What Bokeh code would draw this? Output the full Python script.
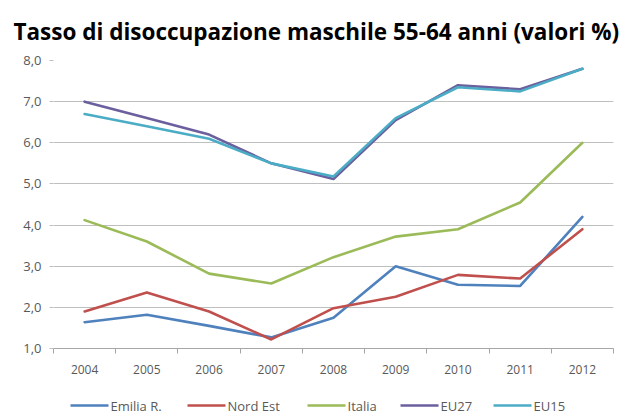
from bokeh.plotting import figure
from bokeh.models import FixedTicker, Range1d
from bokeh.layouts import column
from bokeh.core.properties import value
from bokeh.embed import file_html
from bokeh.resources import INLINE

years = [2004, 2005, 2006, 2007, 2008, 2009, 2010, 2011, 2012]
emilia = [1.64, 1.82, 1.55, 1.27, 1.75, 3.0, 2.55, 2.52, 4.2]
nord_est = [1.9, 2.36, 1.9, 1.22, 1.98, 2.26, 2.79, 2.7, 3.9]
italia = [4.12, 3.6, 2.82, 2.58, 3.22, 3.72, 3.9, 4.55, 6.0]
eu27 = [7.0, 6.6, 6.2, 5.5, 5.12, 6.55, 7.4, 7.3, 7.8]
eu15 = [6.7, 6.4, 6.1, 5.5, 5.18, 6.6, 7.35, 7.25, 7.8]
y_ticks = [1, 2, 3, 4, 5, 6, 7, 8]
series_names = ["Emilia R.", "Nord Est", "Italia", "EU27", "EU15"]
colors = ["#4F81BD", "#C0504D", "#9BBB59", "#6C5F9E", "#4BACC6"]

p = figure(width=620, height=384, output_backend="svg", toolbar_location=None,
           x_range=Range1d(years[0] - 0.5, years[-1] + 0.5), y_range=Range1d(1, 8),
           min_border_left=53, min_border_right=7, min_border_top=58, min_border_bottom=36)

p.title.text = "Tasso di disoccupazione maschile 55-64 anni (valori %)"
p.title.text_font = "Open Sans"
p.title.text_font_style = "bold"
p.title.text_font_size = "22.5px"
p.title.align = "left"
p.title.offset = -40
p.title.text_color = "#000000"
p.title.standoff = 27

p.outline_line_color = None
p.background_fill_color = "white"
p.border_fill_color = "white"

p.xgrid.grid_line_color = None
p.ygrid.grid_line_color = "#BFBFBF"
p.ygrid.grid_line_width = 1
p.ygrid.ticker = FixedTicker(ticks=y_ticks)

p.yaxis.ticker = FixedTicker(ticks=y_ticks)
p.yaxis.major_label_overrides = {t: f"{t:.1f}".replace(".", ",") for t in y_ticks}
p.yaxis.axis_line_color = None
p.yaxis.major_tick_line_color = "#BFBFBF"
p.yaxis.major_tick_out = 4
p.yaxis.major_tick_in = 0
p.yaxis.minor_tick_line_color = None
p.yaxis.minor_tick_out = 0
p.yaxis.minor_tick_in = 0
p.yaxis.major_label_text_font = "Open Sans"
p.yaxis.major_label_text_font_size = "13px"
p.yaxis.major_label_text_color = "#595959"
p.yaxis.major_label_standoff = 8

p.xaxis.ticker = FixedTicker(ticks=years, minor_ticks=[y - 0.5 for y in years] + [years[-1] + 0.5])
p.xaxis.major_label_overrides = {y: str(y) for y in years}
p.xaxis.axis_line_color = "#A6A6A6"
p.xaxis.major_tick_line_color = None
p.xaxis.major_tick_out = 0
p.xaxis.major_tick_in = 0
p.xaxis.minor_tick_line_color = "#A6A6A6"
p.xaxis.minor_tick_out = 5
p.xaxis.minor_tick_in = 0
p.xaxis.major_label_text_font = "Open Sans"
p.xaxis.major_label_text_font_size = "12px"
p.xaxis.major_label_text_color = "#595959"
p.xaxis.major_label_standoff = 11

all_series = [emilia, nord_est, italia, eu27, eu15]
for vals, c in zip(all_series, colors):
    p.line(years, vals, line_color=c, line_width=2.6, line_join="round", line_cap="round")

# legend strip below the chart; its frame is aligned with the chart frame (53..613 px)
lg = figure(width=620, height=30, output_backend="svg", toolbar_location=None,
            x_range=Range1d(53, 613), y_range=Range1d(0, 30),
            x_axis_type=None, y_axis_type=None,
            min_border=0, min_border_left=0, min_border_right=0,
            min_border_top=0, min_border_bottom=0, outline_line_color=None)
lg.grid.visible = False
lg.border_fill_color = "white"
glyph_x0 = [70, 187, 307, 400, 493]
glyph_len = 38
lg.segment(x0=glyph_x0, y0=[9] * 5, x1=[x + glyph_len for x in glyph_x0], y1=[9] * 5,
           line_color=colors, line_width=2.6)
lg.text(x=[x + glyph_len + 2 for x in glyph_x0], y=[9] * 5, text=series_names,
        text_font=value("Open Sans"), text_font_size="13px", text_color="#595959",
        text_baseline="middle", text_align="left")

open("out.html", "w").write(file_html(column(p, lg, spacing=0), INLINE))
